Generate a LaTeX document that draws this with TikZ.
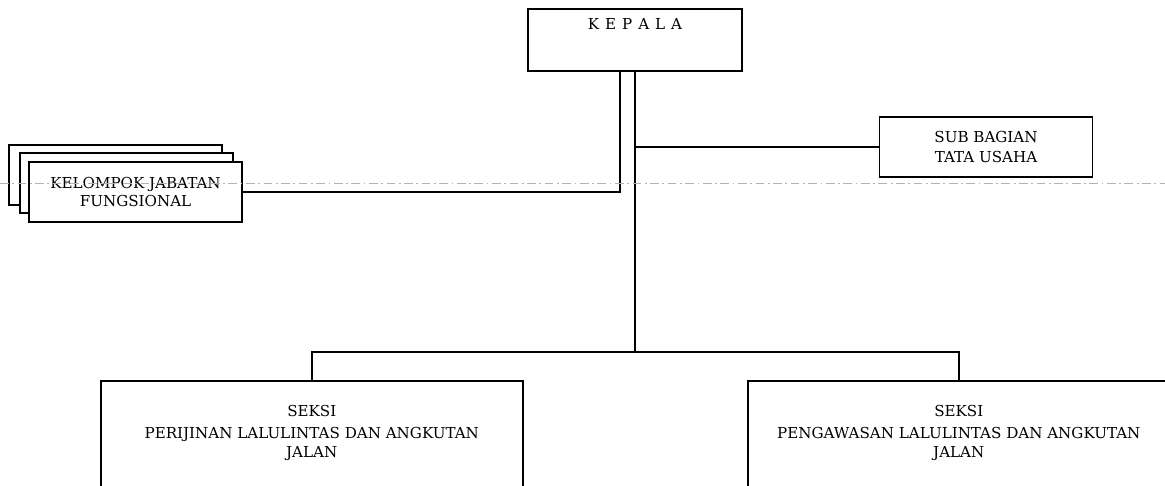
\documentclass[tikz,border=0pt]{standalone}
\usepackage{fontspec}
\setmainfont{DejaVu Serif}

\begin{document}
\begin{tikzpicture}[x=0.02cm,y=-0.02cm,
  txt/.style={inner sep=0pt,align=center,font=\fontsize{8.6}{10.6}\selectfont},
  box/.style={txt,draw,line width=0.9pt},
  unit/.style={box,minimum width=4.26cm,minimum height=1.2cm},
  seksi/.style={box,anchor=north west,minimum width=8.44cm,minimum height=2.8cm},
  line/.style={line width=0.9pt}]
\useasboundingbox (0,0) rectangle (1165,486);
\clip (0,0) rectangle (1165,486);
\node[box,minimum width=4.28cm,text height=0.42cm,text depth=0.82cm] (kepala) at (635,40) {K\kern3.4pt E\kern3.4pt P\kern3.4pt A\kern3.4pt L\kern3.4pt A};
\node[unit] (sub) at (986,147) {SUB BAGIAN\\[1pt]TATA USAHA};
\node[unit,fill=white] (kjf3) at (115.5,175) {};
\node[unit,fill=white] (kjf2) at (126.5,183) {};
\node[unit,fill=white] (kjf1) at (135.5,192) {KELOMPOK JABATAN\\FUNGSIONAL};
\node[seksi] (seksi1) at (100,380) {};
\node[seksi] (seksi2) at (747,380) {};
\node[txt,anchor=north] (seksi1text) at ([yshift=-0.5cm]seksi1.north) {SEKSI\\[2pt]PERIJINAN LALULINTAS DAN ANGKUTAN\\JALAN};
\node[txt,anchor=north] (seksi2text) at ([yshift=-0.5cm]seksi2.north) {SEKSI\\[2pt]PENGAWASAN LALULINTAS DAN ANGKUTAN\\JALAN};
%
\coordinate (bus) at (635,352);
\draw[line] (kjf1.east) -| ([xshift=-0.3cm]kepala.south);
\draw[line] (sub.west) -- (sub.west -| kepala.south);
\draw[line] (kepala.south) -- (bus);
\draw[line] (seksi1.north) |- (bus) -| (seksi2.north);
% scan line
\draw[gray!60,line width=0.4pt,dash pattern=on 5pt off 2pt on 1pt off 2pt] (0,183) -- (1165,183);
\end{tikzpicture}
\end{document}
